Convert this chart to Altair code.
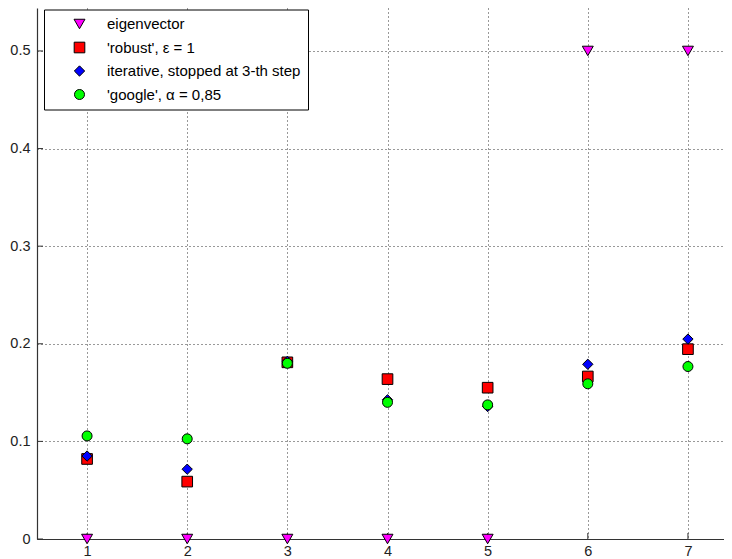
import altair as alt
import pandas as pd

x_vals = [1, 2, 3, 4, 5, 6, 7]
eigenvector = [0, 0, 0, 0, 0, 0.5, 0.5]
robust = [0.082, 0.0588, 0.181, 0.1638, 0.155, 0.1665, 0.1945]
iterative = [0.085, 0.0715, 0.182, 0.1426, 0.1357, 0.179, 0.2048]
google = [0.1056, 0.1026, 0.180, 0.140, 0.1374, 0.159, 0.1767]

series_names = ["eigenvector", "'robust', ε = 1", "iterative, stopped at 3-th step", "'google', α = 0,85"]
series_values = [eigenvector, robust, iterative, google]
series_colors = ["#ff00ff", "#ff0000", "#0000ff", "#00ff00"]
series_shapes = ["triangle-down", "square", "diamond", "circle"]
series_sizes = [120, 100, 90, 110]

x_ticks = [1, 2, 3, 4, 5, 6, 7]
y_ticks = [0, 0.1, 0.2, 0.3, 0.4, 0.5]

rows = []
for i, (name, vals) in enumerate(zip(series_names, series_values)):
    for x, v in zip(x_vals, vals):
        rows.append({"x": x, "value": v, "series": name, "order": i})
df = pd.DataFrame(rows)

W, H = 687, 531
xscale = alt.Scale(domain=[0.5, 7.36], nice=False, zero=False)
yscale = alt.Scale(domain=[0, 0.544], nice=False)

font = "Liberation Sans"

xaxis = alt.Axis(values=x_ticks, title=None, grid=True, ticks=False, labelPadding=5,
                 format="d", labelFont=font, labelFontSize=14.5, labelColor="#222")
yaxis = alt.Axis(values=y_ticks, title=None, grid=True, ticks=False, labelPadding=7,
                 format="~g", labelFont=font, labelFontSize=14.5, labelColor="#222")

points = alt.Chart(df).mark_point(filled=True, stroke="black", strokeWidth=1, opacity=1).encode(
    x=alt.X("x:Q", scale=xscale, axis=xaxis),
    y=alt.Y("value:Q", scale=yscale, axis=yaxis),
    color=alt.Color("series:N", scale=alt.Scale(domain=series_names, range=series_colors),
                    legend=alt.Legend(title=None, orient="none", legendX=7, legendY=1.5,
                                      fillColor="white", strokeColor="black", padding=7,
                                      symbolOffset=21, labelOffset=20, rowPadding=7.5,
                                      labelFont=font, labelFontSize=15, labelColor="black",
                                      symbolStrokeColor="black", symbolStrokeWidth=1,
                                      symbolSize=110, labelLimit=400)),
    shape=alt.Shape("series:N", scale=alt.Scale(domain=series_names, range=series_shapes)),
    size=alt.Size("series:N", scale=alt.Scale(domain=series_names, range=series_sizes), legend=None),
    order=alt.Order("order:Q"),
)

tick_df = pd.DataFrame({"t": x_ticks})
xticks_layer = alt.Chart(tick_df).mark_rule(color="#333", strokeWidth=1).encode(
    x=alt.X("t:Q", scale=xscale, axis=xaxis), y=alt.value(H), y2=alt.value(H - 6)
)
ytick_df = pd.DataFrame({"t": y_ticks})
yticks_layer = alt.Chart(ytick_df).mark_rule(color="#333", strokeWidth=1).encode(
    y=alt.Y("t:Q", scale=yscale, axis=yaxis), x=alt.value(0), x2=alt.value(6)
)

chart = alt.layer(xticks_layer, yticks_layer, points).properties(
    width=W, height=H,
    background="white",
    autosize=alt.AutoSizeParams(type="none"),
    padding={"left": 29, "top": 0, "right": 0, "bottom": 20},
).configure_view(stroke=None).configure_axis(
    domainColor="#333", domainWidth=1.2,
    gridColor="black", gridDash=[1, 3], gridOpacity=0.8, gridWidth=1,
)

chart.save("out.html", embed_options={"renderer": "svg", "actions": False})
